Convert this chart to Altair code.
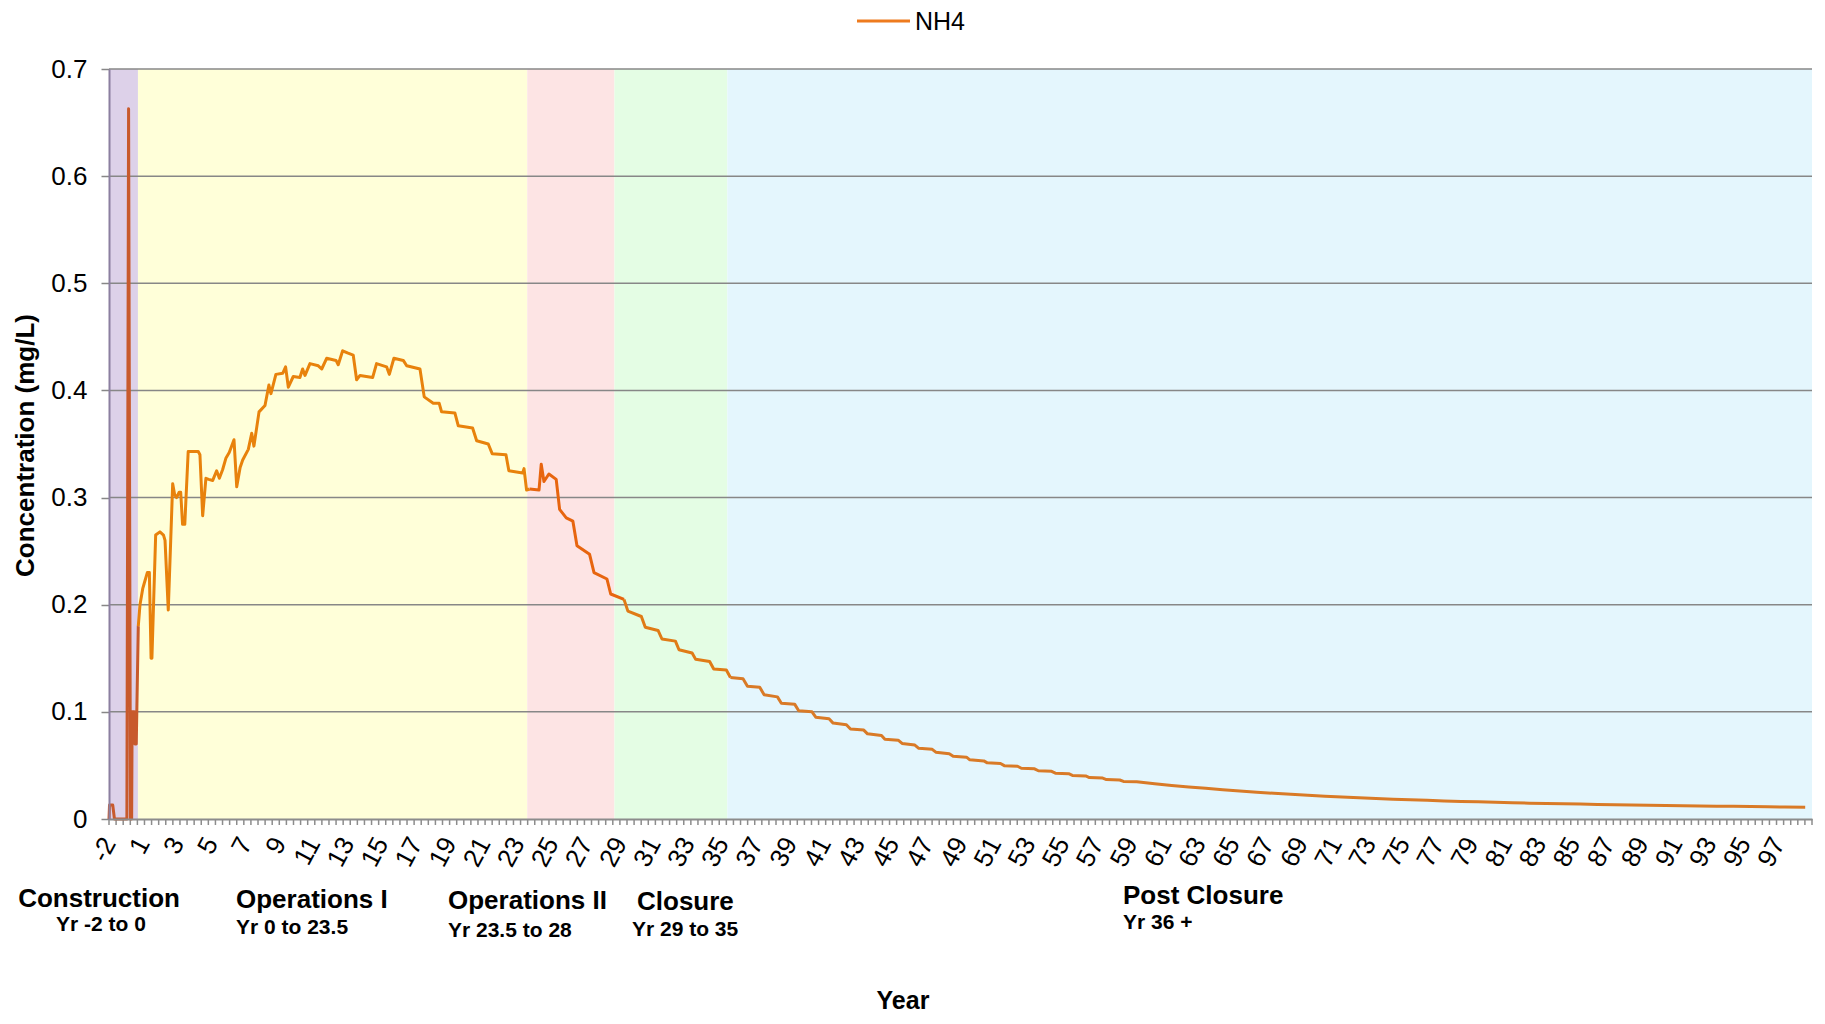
import altair as alt
import pandas as pd

# ---------------- data ----------------
# axis position: 0 = first category label "-2", one unit per year
POS = [
    0.00, 0.03, 0.22, 0.32, 1.05, 1.15, 1.26, 1.33, 1.36, 1.48, 1.52, 1.60, 1.72,
    1.82, 1.98, 2.07, 2.25, 2.37, 2.47, 2.52, 2.74, 2.99, 3.20, 3.29, 3.48, 3.74,
    3.85, 3.97, 4.12, 4.21, 4.32, 4.45, 4.65, 5.24, 5.34, 5.50, 5.69, 5.85, 6.09,
    6.32, 6.48, 6.67, 6.87, 7.06, 7.34, 7.50, 7.70, 7.85, 8.18, 8.38, 8.51, 8.81,
    9.16, 9.39, 9.51, 9.80, 10.20, 10.37, 10.53, 10.82, 11.21, 11.37, 11.51, 11.80,
    12.29, 12.49, 12.78, 13.33, 13.46, 13.72, 14.00, 14.34, 14.54, 14.74, 15.48,
    15.71, 16.30, 16.46, 16.73, 17.28, 17.48, 18.26, 18.51, 19.04, 19.39, 19.53,
    20.31, 20.51, 21.35, 21.59, 22.27, 22.50, 23.31, 23.48, 24.29, 24.37, 24.52,
    24.70, 25.25, 25.38, 25.54, 25.83, 26.26, 26.46, 26.85, 27.24, 27.48, 28.22,
    28.48, 29.24, 29.46,
    30.24, 30.47, 31.26, 31.49, 32.24, 32.47, 33.26, 33.47, 34.24, 34.45, 35.27,
    35.51, 36.25,
    36.49, 37.23, 37.49, 38.21, 38.47, 39.25, 39.48, 40.27, 40.50, 41.28, 41.50,
    42.28, 42.52, 43.30, 43.54, 44.32, 44.54, 45.36, 45.56, 46.34, 46.57, 47.32,
    47.55, 48.34, 48.55, 49.34, 49.57, 50.35, 50.55, 51.37, 51.57, 52.35, 52.57,
    53.35, 53.57, 54.35, 54.57, 55.35, 55.57, 56.35, 56.57, 57.35, 57.57, 58.35,
    58.57, 59.35, 59.57, 60.35, 61.4, 62.4, 63.4, 64.4, 65.4, 66.4, 67.4, 68.4,
    69.4, 70.4, 71.4, 72.4, 73.4, 74.4, 75.4, 76.4, 77.4, 78.4, 79.4, 80.4, 81.4,
    82.4, 83.4, 84.4, 85.4, 86.4, 87.4, 88.4, 89.4, 90.4, 91.4, 92.4, 93.4, 94.4,
    95.4, 96.4, 97.4, 98.4, 99.6,
]
NH4 = [
    0.000, 0.013, 0.013, 0.000, 0.000, 0.663, 0.000, 0.000, 0.100, 0.100, 0.070, 0.070, 0.180,
    0.200, 0.215, 0.220, 0.230, 0.230, 0.150, 0.150, 0.265, 0.268, 0.265, 0.260, 0.195, 0.313,
    0.303, 0.300, 0.305, 0.305, 0.275, 0.275, 0.343, 0.343, 0.340, 0.283, 0.318, 0.317, 0.316,
    0.325, 0.318, 0.326, 0.337, 0.342, 0.354, 0.310, 0.328, 0.335, 0.345, 0.360, 0.348, 0.380,
    0.386, 0.405, 0.397, 0.415, 0.416, 0.422, 0.403, 0.413, 0.412, 0.420, 0.414, 0.425,
    0.423, 0.420, 0.430, 0.428, 0.424, 0.437, 0.435, 0.433, 0.410, 0.414, 0.412,
    0.425, 0.422, 0.415, 0.430, 0.428, 0.423, 0.420, 0.394, 0.388, 0.388, 0.380,
    0.379, 0.367, 0.365, 0.353, 0.350, 0.341, 0.340, 0.325, 0.323, 0.327, 0.307,
    0.308, 0.307, 0.331, 0.315, 0.322, 0.317, 0.289, 0.281, 0.278, 0.255, 0.247,
    0.230, 0.224, 0.210,
    0.205, 0.194, 0.189, 0.179, 0.176, 0.168, 0.166, 0.158, 0.155, 0.149, 0.147,
    0.140, 0.139,
    0.132, 0.131, 0.124, 0.123, 0.116, 0.114, 0.108, 0.107, 0.101, 0.100, 0.095,
    0.0935, 0.0895, 0.088, 0.084, 0.083, 0.0795, 0.078, 0.0745, 0.0736, 0.0705, 0.069,
    0.066, 0.065, 0.0624, 0.061, 0.0586, 0.0577, 0.0552, 0.0542, 0.0524, 0.0518, 0.0498,
    0.0492, 0.0474, 0.0468, 0.0450, 0.0445, 0.0428, 0.0423, 0.0407, 0.0402, 0.0387, 0.0382,
    0.0368, 0.0364, 0.0351, 0.0347, 0.0328, 0.0313, 0.0299, 0.0286, 0.0273, 0.0261, 0.0250, 0.0240,
    0.0230, 0.0221, 0.0213, 0.0205, 0.0198, 0.0191, 0.0185, 0.0179, 0.0174, 0.0169, 0.0164, 0.0160, 0.0156,
    0.0152, 0.0148, 0.0145, 0.0142, 0.0139, 0.0136, 0.0133, 0.0130, 0.0128, 0.0126, 0.0124, 0.0122, 0.0120,
    0.0118, 0.0116, 0.0114, 0.0112, 0.0110,
]

PHASES = ["Construction", "Operations I", "Operations II", "Closure", "Post Closure"]
PHASE_RANGES = ["Yr -2 to 0", "Yr 0 to 23.5", "Yr 23.5 to 28", "Yr 29 to 35", "Yr 36 +"]
BAND_START = [0.0, 1.70, 24.56, 29.68, 36.31]
BAND_END = [1.70, 24.56, 29.68, 36.31, 100.0]

X_LABELS = ["-2"] + [str(k) for k in range(1, 98, 2)]
Y_TICKS = [0, 0.1, 0.2, 0.3, 0.4, 0.5, 0.6, 0.7]

# ---------------- styles ----------------
BAND_COLORS = ["#DDD1E9", "#FFFFD9", "#FDE4E4", "#E4FDE4", "#E4F6FD"]
LINE_COLORS = ["#C85A2C", "#E8820C", "#E7650F", "#E07B16", "#D97A27"]
FONT = "Liberation Sans"
W, H = 1703, 750
XDOM = [0, 100]
YDOM = [0, 0.7]

# ---------------- tables ----------------
pts = pd.DataFrame({"u": POS, "v": NH4})


def phase_of(u):
    for i, e in enumerate(BAND_END):
        if u <= e:
            return i
    return len(BAND_END) - 1


pts["pi"] = pts["u"].apply(phase_of)
parts = []
for i, name in enumerate(PHASES):
    seg = pts[pts["pi"] == i].copy()
    nxt = pts[pts["pi"] == i + 1]
    if len(nxt):
        seg = pd.concat([seg, nxt.iloc[[0]]])
    seg["phase"] = name
    parts.append(seg)
line_df = pd.concat(parts, ignore_index=True)

bands_df = pd.DataFrame({"phase": PHASES, "start": BAND_START, "end": BAND_END})
grid_df = pd.DataFrame({"v": Y_TICKS[1:]})
minor_df = pd.DataFrame({"u": [i * 5 / 12 for i in range(241)]})

xs = alt.Scale(domain=XDOM, nice=False, zero=False)
ys = alt.Scale(domain=YDOM, nice=False, zero=False)

label_arr = "[" + ",".join("'%s'" % s for s in X_LABELS) + "]"

X_AXIS = alt.Axis(
    values=list(range(0, 99, 2)),
    labelExpr=label_arr + "[round(datum.value/2)]",
    labelAngle=-62,
    labelFontSize=26,
    labelFont=FONT,
    labelColor="#000000",
    labelPadding=20,
    ticks=False,
    grid=False,
    domainColor="#8C8C8C",
    domainWidth=2,
    title=None,
    zindex=1,
    labelOverlap=False,
)
Y_AXIS = alt.Axis(
    values=Y_TICKS,
    labelExpr="datum.value == 0 ? '0' : format(datum.value, '.1f')",
    labelFontSize=26,
    labelFont=FONT,
    labelColor="#000000",
    labelPadding=14,
    tickSize=8,
    tickColor="#878787",
    tickWidth=1.5,
    domainColor="#8B7FA0",
    domainWidth=2,
    grid=False,
    title="Concentration (mg/L)",
    titleFont=FONT,
    titleFontSize=26,
    titleFontWeight="bold",
    titleColor="#000000",
    titleAngle=270,
    titleAlign="center",
    titleBaseline="middle",
    titleX=-84,
    titleY=376,
    zindex=1,
    labelOverlap=False,
)

bands = alt.Chart(bands_df).mark_rect().encode(
    x=alt.X("start:Q", scale=xs, axis=X_AXIS),
    x2="end:Q",
    y=alt.value(0),
    y2=alt.value(H),
    fill=alt.Fill("phase:N", scale=alt.Scale(domain=PHASES, range=BAND_COLORS), legend=None),
)

grid = alt.Chart(grid_df).mark_rule(color="#878787", strokeWidth=1.5).encode(
    y=alt.Y("v:Q", scale=ys, axis=Y_AXIS),
    x=alt.value(0),
    x2=alt.value(W),
)

minor = alt.Chart(minor_df).mark_rule(color="#8C8C8C", strokeWidth=1.5).encode(
    x=alt.X("u:Q", scale=xs, axis=X_AXIS),
    y=alt.value(H),
    y2=alt.value(H + 6),
)

line = alt.Chart(line_df).mark_line(strokeWidth=3, strokeJoin="round").encode(
    x=alt.X("u:Q", scale=xs, axis=X_AXIS),
    y=alt.Y("v:Q", scale=ys, axis=Y_AXIS),
    stroke=alt.Stroke("phase:N", scale=alt.Scale(domain=PHASES, range=LINE_COLORS), legend=None),
    order="u:Q",
)


def txt(text, x, y, size, bold=True, align="left"):
    return alt.Chart(pd.DataFrame({"t": [text]})).mark_text(
        font=FONT,
        fontSize=size,
        fontWeight="bold" if bold else "normal",
        align=align,
        baseline="middle",
        color="#000000",
    ).encode(x=alt.value(x), y=alt.value(y), text="t:N")


legend_line = alt.Chart(pd.DataFrame({"t": ["NH4"]})).mark_rule(
    color="#EE7B1E", strokeWidth=3
).encode(x=alt.value(748), x2=alt.value(801), y=alt.value(-48))

annots = [
    txt("NH4", 806, -47, 25, bold=False),
    txt(PHASES[0], -10, 830, 26, align="center"),
    txt(PHASE_RANGES[0], -8, 856, 21, align="center"),
    txt(PHASES[1], 127, 831, 26),
    txt(PHASE_RANGES[1], 127, 859, 21),
    txt(PHASES[2], 339, 832, 26),
    txt(PHASE_RANGES[2], 339, 862, 21),
    txt(PHASES[3], 528, 833, 26),
    txt(PHASE_RANGES[3], 523, 861, 21),
    txt(PHASES[4], 1014, 827, 26),
    txt(PHASE_RANGES[4], 1014, 854, 21),
    txt("Year", 794, 932, 25, align="center"),
]

chart = alt.layer(bands, grid, minor, line, legend_line, *annots).properties(
    width=W,
    height=H,
    autosize=alt.AutoSizeParams(type="none"),
    padding={"left": 101, "top": 61, "right": 5, "bottom": 196},
).configure_view(stroke=None)

chart.save("out.html", embed_options={"renderer": "svg", "actions": False})
